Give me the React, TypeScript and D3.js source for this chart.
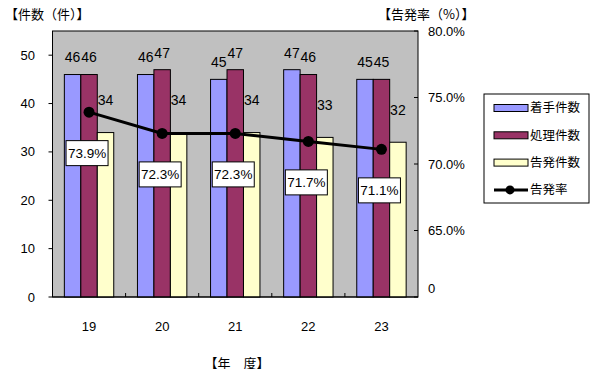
import React from "react";
import * as d3 from "d3";

const categories = ["19", "20", "21", "22", "23"];
const chakushu = [46, 46, 45, 47, 45];
const shori = [46, 47, 47, 46, 45];
const kokuhatsu = [34, 34, 34, 33, 32];
const rate = [73.9, 72.3, 72.3, 71.7, 71.1];
const leftTicks = [0, 10, 20, 30, 40, 50];
const rightTicks = [60, 65, 70, 75, 80];
const seriesNames = ["着手件数", "処理件数", "告発件数", "告発率"];

const W = 614, H = 377;
const plot = { l: 52.5, r: 418, t: 31, b: 297 };
const colors = ["#9999FF", "#993366", "#FFFFCC"];
const FONT = "'Liberation Sans', 'Noto Sans CJK JP', sans-serif";
const CJK = "'Noto Sans CJK JP', sans-serif";

export default function App() {
  const x = d3.scaleBand().domain(categories).range([plot.l, plot.r]).padding(0);
  const y = d3.scaleLinear().domain([0, 55]).range([plot.b, plot.t]);
  const yr = d3.scaleLinear().domain([60, 80]).range([plot.b, plot.t]);
  const inner = d3.scaleBand().domain(["0", "1", "2"]).range([0, x.bandwidth()]).paddingOuter(0.72).paddingInner(0);
  const series = [chakushu, shori, kokuhatsu];
  const line = d3.line<number>().x((_, i) => x(categories[i])! + x.bandwidth() / 2).y((d) => yr(d));

  return (
    <div style={{ margin: -8 }}>
      <svg width={W} height={H} style={{ display: "block" }}>
        <rect x={0} y={0} width={W} height={H} fill="#fff" />
        <rect x={plot.l} y={plot.t} width={plot.r - plot.l} height={plot.b - plot.t} fill="#C0C0C0" stroke="#000" strokeWidth={1} />
        {series.map((vals, s) =>
          vals.map((v, i) => (
            <rect key={`b${s}-${i}`} x={x(categories[i])! + inner(String(s))!} y={y(v)} width={inner.bandwidth()} height={plot.b - y(v)} fill={colors[s]} stroke="#000" strokeWidth={1} />
          ))
        )}
        {/* axes */}
        <line x1={plot.l} x2={plot.l} y1={plot.t} y2={plot.b} stroke="#000" />
        <line x1={plot.l} x2={plot.r} y1={plot.b} y2={plot.b} stroke="#000" />
        {leftTicks.map((t) => (
          <g key={`lt${t}`}>
            <line x1={plot.l - 4} x2={plot.l} y1={y(t)} y2={y(t)} stroke="#000" />
            <text x={35} y={y(t)} dy="0.35em" textAnchor="end" fontSize={13} fontFamily={FONT}>{t}</text>
          </g>
        ))}
        {rightTicks.map((t) => (
          <g key={`rt${t}`}>
            <line x1={plot.r - 4} x2={plot.r} y1={yr(t)} y2={yr(t)} stroke="#000" />
            <text x={428} y={t === 60 ? yr(t) - 9 : yr(t)} dy="0.35em" textAnchor="start" fontSize={13} fontFamily={FONT}>{t === 60 ? "0" : `${t.toFixed(1)}%`}</text>
          </g>
        ))}
        {categories.map((c, i) => (
          <g key={`xc${c}`}>
            {i > 0 && <line x1={x(c)!} x2={x(c)!} y1={plot.b - 4} y2={plot.b} stroke="#000" />}
            <text x={x(c)! + x.bandwidth() / 2} y={326} dy="0.35em" textAnchor="middle" fontSize={13} fontFamily={FONT}>{c}</text>
          </g>
        ))}
        {/* bar value labels */}
        {series.map((vals, s) =>
          vals.map((v, i) => (
            <text key={`v${s}-${i}`} x={x(categories[i])! + inner(String(s))! + inner.bandwidth() / 2} y={y(v) - (s === 2 ? 32 : 17)} dy="0.35em" textAnchor="middle" fontSize={14} fontFamily={FONT}>{v}</text>
          ))
        )}
        {/* line */}
        <path d={line(rate)!} fill="none" stroke="#000" strokeWidth={3} />
        {rate.map((r, i) => (
          <circle key={`pt${i}`} cx={x(categories[i])! + x.bandwidth() / 2} cy={yr(r)} r={5.5} fill="#000" />
        ))}
        {rate.map((r, i) => {
          const cx = x(categories[i])! + x.bandwidth() / 2 - 2;
          const cy = yr(r) + 41;
          return (
            <g key={`rl${i}`}>
              <rect x={cx - 21} y={cy - 12.5} width={42} height={25} fill="#fff" stroke="#000" />
              <text x={cx} y={cy} dy="0.35em" textAnchor="middle" fontSize={13.5} fontFamily={FONT}>{r.toFixed(1)}%</text>
            </g>
          );
        })}
        {/* titles */}
        <text x={5} y={14} dy="0.35em" fontSize={13} fontFamily={CJK}>【件数（件）】</text>
        <text x={378} y={14} dy="0.35em" fontSize={13} fontFamily={CJK}>【告発率（%）】</text>
        <text x={237} y={363} dy="0.35em" textAnchor="middle" fontSize={13} fontFamily={CJK}>【年　度】</text>
        {/* legend */}
        <rect x={484} y={94} width={105} height={109} fill="#fff" stroke="#000" />
        {seriesNames.map((n, k) => {
          const ly = 108 + k * 27.3;
          return (
            <g key={`lg${k}`}>
              {k < 3 ? (
                <rect x={494} y={ly - 3.5} width={34} height={7} fill={colors[k]} stroke="#000" />
              ) : (
                <g>
                  <line x1={494} x2={528} y1={ly} y2={ly} stroke="#000" strokeWidth={3} />
                  <circle cx={510} cy={ly} r={4.5} fill="#000" />
                </g>
              )}
              <text x={530} y={ly} dy="0.35em" fontSize={12.5} fontFamily={CJK}>{n}</text>
            </g>
          );
        })}
      </svg>
    </div>
  );
}
